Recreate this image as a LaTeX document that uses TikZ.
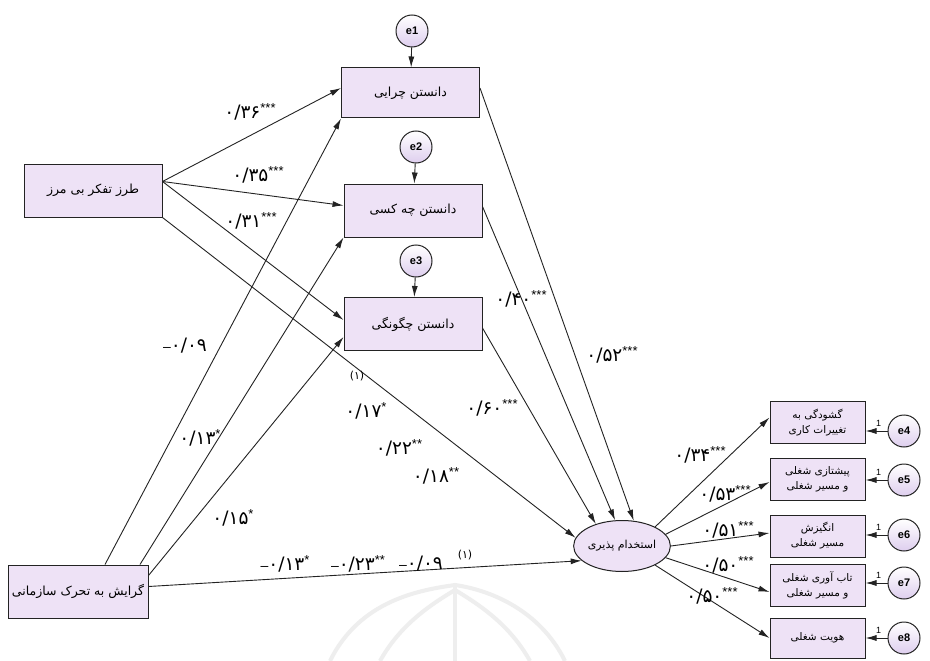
\documentclass[tikz,border=0pt]{standalone}
\usepackage{fontspec}
\usetikzlibrary{arrows.meta,shapes.geometric,calc}
\newfontfamily\fa[Script=Arabic]{DejaVu Sans}
\newfontfamily\lat{Liberation Sans}
\TeXXeTstate=1
\definecolor{boxfill}{RGB}{238,226,246}
\definecolor{circfill}{RGB}{222,206,238}
\definecolor{edge}{RGB}{35,35,35}
\definecolor{wm}{RGB}{238,238,238}
\tikzset{
  vbox/.style={draw=edge, line width=1pt, fill=boxfill, minimum width=138pt, minimum height=53pt, inner sep=0pt, font=\fa\fontsize{12.5}{14}\selectfont, align=center},
  obox/.style={vbox, minimum width=95pt, minimum height=42pt, font=\fa\fontsize{10.5}{15}\selectfont},
  errc/.style={circle, draw=edge, line width=1pt, top color=white, bottom color=circfill, minimum size=32pt, inner sep=0pt, font=\lat\bfseries\fontsize{11}{12}\selectfont},
  lat/.style={ellipse, draw=edge, line width=1pt, fill=boxfill, minimum width=96pt, minimum height=51pt, inner sep=0pt, font=\fa\fontsize{11}{12}\selectfont},
  arr/.style={draw=edge, line width=0.9pt, -{Latex[length=11pt,width=6pt]}},
  coef/.style={font=\fa\fontsize{18.5}{20}\selectfont, inner sep=0pt},
  one/.style={font=\lat\fontsize{9}{9}\selectfont, inner sep=0pt},
}
\newcommand{\stars}[1]{\raisebox{6pt}{\lat\fontsize{13}{13}\selectfont #1}}
\newcommand{\mn}{{\lat\fontsize{14}{14}\selectfont –}}
\newcommand{\pone}{\raisebox{5pt}{\fontsize{11}{11}\selectfont (۱)}}
\begin{document}
\begin{tikzpicture}[x=1pt,y=-1pt]
\useasboundingbox (0,0) rectangle (930,661);
\fill[white] (0,0) rectangle (930,661);
% faint watermark
\begin{scope}[draw=wm, line width=4pt]
\draw (330,661) .. controls (360,600) and (420,590) .. (455,585) .. controls (490,590) and (540,610) .. (565,661);
\draw (380,661) .. controls (400,625) and (430,605) .. (455,590) .. controls (480,605) and (510,625) .. (530,661);
\draw (455,585) -- (455,661);
\end{scope}
% nodes
\node[vbox] (tf) at (93,190.5) {\beginR طرز تفکر بی مرز\endR};
\node[vbox, minimum width=140pt] (gr) at (78,591.5) {\beginR گرایش به تحرک سازمانی\endR};
\node[vbox, minimum height=50pt] (b1) at (410.5,93) {\beginR دانستن چرایی\endR};
\node[vbox] (b2) at (413,210.5) {\beginR دانستن چه کسی\endR};
\node[vbox] (b3) at (413,324) {\beginR دانستن چگونگی\endR};
\node[errc] (e1) at (412,31) {e1};
\node[errc] (e2) at (416,147) {e2};
\node[errc] (e3) at (416,261) {e3};
\node[lat] (el) at (622,546) {\beginR استخدام پذیری\endR};
\node[obox] (r1) at (817.5,422.5) {\beginR گشودگی به\endR\\\beginR تغییرات کاری\endR};
\node[obox] (r2) at (817.5,479) {\beginR پیشتازی شغلی\endR\\\beginR و مسیر شغلی\endR};
\node[obox] (r3) at (817.5,536) {\beginR انگیزش\endR\\\beginR مسیر شغلی\endR};
\node[obox] (r4) at (817.5,585) {\beginR تاب آوری شغلی\endR\\\beginR و مسیر شغلی\endR};
\node[obox, minimum height=40pt] (r5) at (817.5,638) {\beginR هویت شغلی\endR};
\node[errc] (e4) at (904,431) {e4};
\node[errc] (e5) at (904,480) {e5};
\node[errc] (e6) at (904,535) {e6};
\node[errc] (e7) at (904,583) {e7};
\node[errc] (e8) at (904,638) {e8};
% error arrows
\draw[arr] (e1) -- (b1);
\draw[arr] (e2) -- (b2);
\draw[arr] (e3) -- (b3);
\foreach \e/\r in {e4/r1,e5/r2,e6/r3,e7/r4,e8/r5}{
  \draw[arr] (\e.west) -- (\e.west -| \r.east);
  \node[one] at ([xshift=-9pt,yshift=8pt]\e.west) {1};
}
% structural paths
\draw[arr] ([yshift=9pt]tf.east) -- ([yshift=5pt]b1.west);
\draw[arr] ([yshift=9pt]tf.east) -- ([yshift=5pt]b2.west);
\draw[arr] ([yshift=9pt]tf.east) -- ([yshift=4pt]b3.west);
\draw[arr] (tf.south east) -- (el.170);
\draw[arr] ([xshift=27pt]gr.north) -- (b1.south west);
\draw[arr] ([xshift=62pt]gr.north) -- (b2.south west);
\draw[arr] ([yshift=16pt]gr.east) -- ([yshift=-13pt]b3.west);
\draw[arr] ([yshift=5pt]gr.east) -- (el.200);
\draw[arr] ([yshift=5pt]b1.east) -- (el.65);
\draw[arr] ([yshift=4pt]b2.east) -- (el.105);
\draw[arr] ([yshift=-4pt]b3.east) -- (el.140);
\draw[arr] (el.30) -- ([yshift=5pt]r1.west);
\draw[arr] (el.15) -- ([yshift=-3pt]r2.west);
\draw[arr] (el.east) -- ([yshift=3pt]r3.west);
\draw[arr] (el.-15) -- ([yshift=-7pt]r4.west);
\draw[arr] (el.-30) -- (r5.west);
% coefficients
\node[coef] (c1) at (250,112) {۰/۳۶\stars{***}};
\node[coef] (c2) at (258,175) {۰/۳۵\stars{***}};
\node[coef] (c3) at (251,221) {۰/۳۱\stars{***}};
\node[coef] (c4) at (185,346) {\mn۰/۰۹};
\node[coef] (c5) at (200,438) {۰/۱۳\stars{*}};
\node[coef] (c6) at (233,518) {۰/۱۵\stars{*}};
\node[coef] (c7) at (357,378) {\pone};
\node[coef] (c8) at (366,411) {۰/۱۷\stars{*}};
\node[coef] (c9) at (399,448) {۰/۲۲\stars{**}};
\node[coef] (c10) at (436,476) {۰/۱۸\stars{**}};
\node[coef] (c11) at (521,299) {۰/۴۰\stars{***}};
\node[coef] (c12) at (612,355) {۰/۵۲\stars{***}};
\node[coef] (c13) at (492,408) {۰/۶۰\stars{***}};
\node[coef] (c14) at (285,564) {\mn۰/۱۳\stars{*}};
\node[coef] (c15) at (358,564) {\mn۰/۲۳\stars{**}};
\node[coef] (c16) at (421,564) {\mn۰/۰۹};
\node[coef] (c17) at (465,557) {\pone};
\node[coef] (c18) at (700,455) {۰/۳۴\stars{***}};
\node[coef] (c19) at (725,494) {۰/۵۳\stars{***}};
\node[coef] (c20) at (728,530) {۰/۵۱\stars{***}};
\node[coef] (c21) at (728,565) {۰/۵۰\stars{***}};
\node[coef] (c22) at (712,596) {۰/۵۰\stars{***}};
\end{tikzpicture}
\end{document}
